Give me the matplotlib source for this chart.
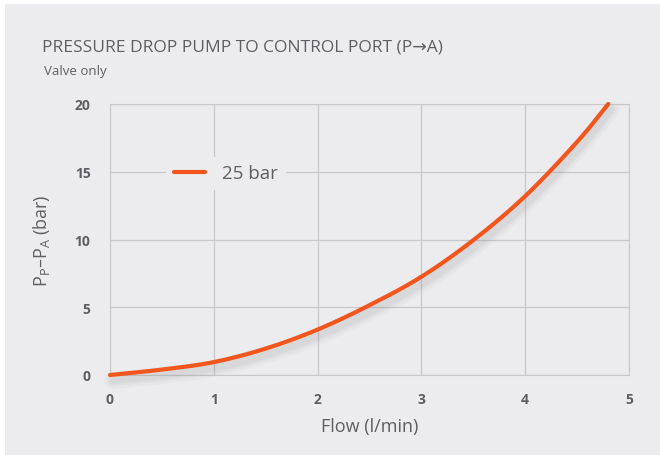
import matplotlib
matplotlib.use("Agg")
import matplotlib.pyplot as plt
import matplotlib.patheffects as pe
from matplotlib.patches import Rectangle
import numpy as np

plt.rcParams['font.family'] = ['Open Sans', 'DejaVu Sans']

BG = "#ECECEE"
GRID = "#C8C8CA"
TXT = "#5F5F63"
LINE = "#F2561D"

# 25 bar curve
flow = [0, 0.5, 1.0, 1.5, 2.0, 2.5, 3.0, 3.5, 4.0, 4.5, 4.8]
dp = [0, 0.4, 0.95, 1.95, 3.35, 5.15, 7.25, 9.95, 13.2, 17.2, 20.0]
x_ticks = [0, 1, 2, 3, 4, 5]
y_ticks = [0, 5, 10, 15, 20]


def catmull_rom(px, py, n=30):
    P = np.column_stack([np.asarray(px, float), np.asarray(py, float)])
    P = np.vstack([2 * P[0] - P[1], P, 2 * P[-1] - P[-2]])
    out = []
    t = np.linspace(0, 1, n, endpoint=False)[:, None]
    for i in range(1, len(P) - 2):
        p0, p1, p2, p3 = P[i - 1], P[i], P[i + 1], P[i + 2]
        seg = 0.5 * ((2 * p1) + (-p0 + p2) * t + (2 * p0 - 5 * p1 + 4 * p2 - p3) * t ** 2
                     + (-p0 + 3 * p1 - 3 * p2 + p3) * t ** 3)
        out.append(seg)
    out.append(P[-2][None, :])
    out = np.vstack(out)
    return out[:, 0], out[:, 1]


fig = plt.figure(figsize=(6.6, 4.56), dpi=100, facecolor="white")
fig.patches.append(Rectangle((5 / 660, 0), 1, 1 - 5 / 456, transform=fig.transFigure,
                             facecolor=BG, edgecolor="none", zorder=-10))

ax = fig.add_axes([110 / 660, (456 - 376) / 456, (629 - 110) / 660, (376 - 105) / 456])
ax.set_facecolor(BG)

xs, ys = catmull_rom(flow, dp)
# soft drop shadow under the curve
shadow = [pe.SimpleLineShadow(offset=(2, -4), shadow_color="#8a8a8e", alpha=a, linewidth=w)
          for a, w in [(0.06, 12), (0.07, 8), (0.08, 5)]]
ax.plot(xs, ys, color=LINE, lw=3, label="25 bar", solid_capstyle="round", zorder=3,
        clip_on=False, path_effects=shadow + [pe.Normal()])

ax.set_xlim(0, 5)
ax.set_ylim(0, 20)
ax.set_xticks(x_ticks)
ax.set_yticks(y_ticks)
ax.grid(True, color=GRID, lw=0.9)
for s in ax.spines.values():
    s.set_color(GRID)
ax.tick_params(length=0, colors=TXT, labelsize=10, pad=12)
for t in ax.get_xticklabels() + ax.get_yticklabels():
    t.set_fontweight("bold")
ax.tick_params(axis="y", pad=14)

ax.set_xlabel("Flow (l/min)", color=TXT, fontsize=13, labelpad=8)
ax.set_ylabel("P$_\\mathregular{P}$–P$_\\mathregular{A}$ (bar)", color=TXT, fontsize=13, labelpad=16)

leg = ax.legend(loc="upper left", bbox_to_anchor=(0.09, 0.84), frameon=True, fontsize=13.5,
                handlelength=1.7, handletextpad=0.9, borderpad=0.4, labelcolor=TXT)
leg.get_frame().set_facecolor(BG)
leg.get_frame().set_edgecolor("none")
leg.get_frame().set_alpha(1)
for h in leg.get_lines():
    h.set_path_effects([pe.Normal()])

fig.text(42 / 660, 1 - 47 / 456, "PRESSURE DROP PUMP TO CONTROL PORT (P→A)", color=TXT,
         fontsize=12.5, va="center", ha="left")
fig.text(44 / 660, 1 - 71 / 456, "Valve only", color=TXT, fontsize=9.5, va="center", ha="left")

fig.savefig("out.png", dpi=100, facecolor="white")
